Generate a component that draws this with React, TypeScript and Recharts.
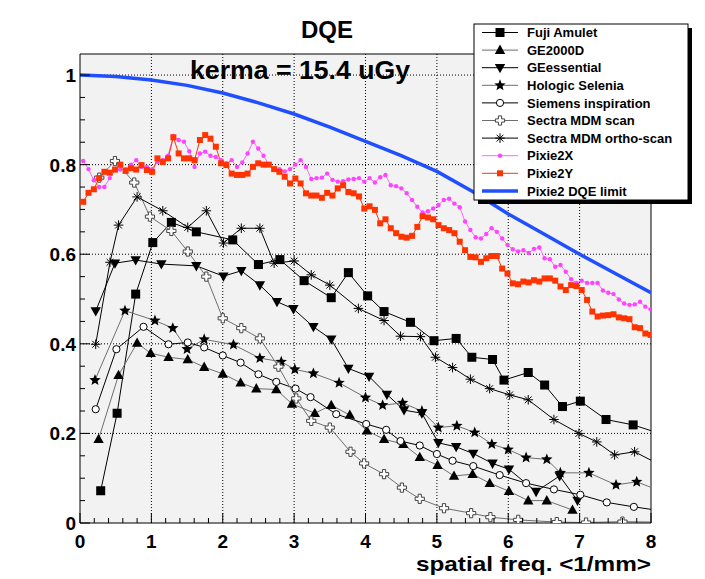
import { LineChart, Line, XAxis, YAxis, CartesianGrid, ReferenceLine } from 'recharts';

// Pixie2 measurements, sampled on a regular frequency grid (1/mm)
const pixieFreq = [
  0.045, 0.119, 0.194, 0.268, 0.342, 0.417, 0.491, 0.565, 0.639, 0.714, 0.788, 0.862, 0.937, 1.011, 1.085, 1.16, 1.234, 1.308,
  1.382, 1.457, 1.531, 1.605, 1.68, 1.754, 1.828, 1.903, 1.977, 2.051, 2.125, 2.2, 2.274, 2.348, 2.423, 2.497, 2.571, 2.646,
  2.72, 2.794, 2.868, 2.943, 3.017, 3.091, 3.166, 3.24, 3.314, 3.389, 3.463, 3.537, 3.611, 3.686, 3.76, 3.834, 3.909, 3.983,
  4.057, 4.132, 4.206, 4.28, 4.354, 4.429, 4.503, 4.577, 4.652, 4.726, 4.8, 4.875, 4.949, 5.023, 5.097, 5.172, 5.246, 5.32,
  5.395, 5.469, 5.543, 5.618, 5.692, 5.766, 5.84, 5.915, 5.989, 6.063, 6.138, 6.212, 6.286, 6.361, 6.435, 6.509, 6.583, 6.658,
  6.732, 6.806, 6.881, 6.955, 7.029, 7.104, 7.178, 7.252, 7.326, 7.401, 7.475, 7.549, 7.624, 7.698, 7.772, 7.847, 7.921, 7.995,
];
const pixie2X = [
  0.808, 0.79, 0.765, 0.75, 0.75, 0.77, 0.788, 0.789, 0.79, 0.8, 0.81, 0.795, 0.795, 0.79, 0.806, 0.81, 0.82, 0.864,
  0.855, 0.851, 0.83, 0.795, 0.825, 0.829, 0.82, 0.817, 0.81, 0.803, 0.81, 0.795, 0.805, 0.825, 0.851, 0.836, 0.82, 0.8,
  0.79, 0.79, 0.785, 0.79, 0.8, 0.81, 0.795, 0.768, 0.77, 0.771, 0.78, 0.766, 0.762, 0.763, 0.767, 0.768, 0.77, 0.762,
  0.77, 0.76, 0.772, 0.777, 0.754, 0.752, 0.747, 0.736, 0.721, 0.706, 0.693, 0.696, 0.702, 0.71, 0.721, 0.724, 0.713, 0.705,
  0.673, 0.654, 0.638, 0.635, 0.645, 0.658, 0.65, 0.635, 0.621, 0.611, 0.606, 0.609, 0.603, 0.612, 0.615, 0.591, 0.589, 0.572,
  0.576, 0.561, 0.544, 0.536, 0.541, 0.536, 0.536, 0.536, 0.519, 0.514, 0.511, 0.499, 0.49, 0.487, 0.488, 0.494, 0.483, 0.477,
];
const pixie2Y = [
  0.717, 0.737, 0.745, 0.77, 0.784, 0.782, 0.789, 0.8, 0.786, 0.792, 0.789, 0.799, 0.788, 0.784, 0.814, 0.806, 0.814, 0.861,
  0.825, 0.814, 0.814, 0.81, 0.855, 0.866, 0.858, 0.84, 0.803, 0.799, 0.78, 0.777, 0.777, 0.78, 0.795, 0.803, 0.8, 0.8,
  0.79, 0.784, 0.773, 0.758, 0.769, 0.758, 0.736, 0.731, 0.731, 0.726, 0.737, 0.731, 0.747, 0.754, 0.739, 0.736, 0.729, 0.702,
  0.707, 0.699, 0.669, 0.678, 0.658, 0.647, 0.639, 0.637, 0.641, 0.661, 0.685, 0.682, 0.678, 0.665, 0.658, 0.654, 0.647, 0.628,
  0.609, 0.594, 0.593, 0.583, 0.591, 0.596, 0.596, 0.568, 0.557, 0.535, 0.533, 0.539, 0.537, 0.542, 0.539, 0.546, 0.546, 0.541,
  0.528, 0.52, 0.531, 0.529, 0.52, 0.498, 0.472, 0.461, 0.463, 0.464, 0.466, 0.459, 0.457, 0.455, 0.437, 0.435, 0.423, 0.42,
];

const limitFreq = [0, 0.5, 1, 1.5, 2, 2.5, 3, 3.5, 4, 4.5, 5, 5.5, 6, 6.5, 7, 7.5, 8];
const limitDqe = [1.0, 0.997, 0.989, 0.977, 0.96, 0.938, 0.913, 0.884, 0.852, 0.82, 0.785, 0.74, 0.69, 0.645, 0.6, 0.557, 0.514];

const fujiFreq = [0.29, 0.52, 0.78, 1.02, 1.28, 1.63, 2.14, 2.5, 2.8, 3.14, 3.52, 3.76, 4.03, 4.26, 4.63, 4.96, 5.27, 5.49, 5.78, 5.94, 6.28, 6.51, 6.76, 7.01, 7.37, 7.75, 8.12];
const fujiDqe = [0.072, 0.245, 0.511, 0.626, 0.671, 0.65, 0.632, 0.577, 0.588, 0.541, 0.503, 0.559, 0.507, 0.472, 0.448, 0.407, 0.412, 0.37, 0.365, 0.319, 0.336, 0.308, 0.26, 0.272, 0.231, 0.219, 0.2];

const ge2000Freq = [0.26, 0.54, 0.8, 0.99, 1.24, 1.51, 1.74, 2.0, 2.25, 2.47, 2.75, 2.97, 3.29, 3.52, 3.78, 4.02, 4.26, 4.53, 4.76, 5.01, 5.24, 5.5, 5.74, 6.01, 6.28, 6.54, 6.9];
const ge2000Dqe = [0.187, 0.33, 0.402, 0.379, 0.37, 0.365, 0.348, 0.333, 0.313, 0.3, 0.298, 0.266, 0.245, 0.263, 0.241, 0.206, 0.187, 0.176, 0.147, 0.129, 0.105, 0.109, 0.089, 0.071, 0.05, 0.05, 0.029];

const geEssFreq = [0.22, 0.49, 0.78, 1.14, 1.63, 2.01, 2.26, 2.52, 2.76, 2.99, 3.27, 3.52, 3.76, 4.05, 4.3, 4.54, 4.79, 5.02, 5.27, 5.51, 5.78, 6.01, 6.39, 6.72, 6.97];
const geEssDqe = [0.473, 0.58, 0.587, 0.578, 0.574, 0.551, 0.563, 0.531, 0.494, 0.478, 0.438, 0.41, 0.345, 0.327, 0.287, 0.252, 0.245, 0.179, 0.17, 0.155, 0.133, 0.12, 0.07, 0.105, 0.05];

const hologicFreq = [0.21, 0.63, 1.05, 1.3, 1.5, 1.74, 2.15, 2.52, 2.82, 3.01, 3.27, 3.63, 4.0, 4.24, 4.52, 4.79, 5.02, 5.28, 5.53, 5.77, 6.0, 6.25, 6.54, 6.73, 7.13, 7.51, 7.8, 8.12];
const hologicDqe = [0.319, 0.474, 0.452, 0.435, 0.388, 0.41, 0.398, 0.368, 0.36, 0.343, 0.334, 0.313, 0.28, 0.263, 0.268, 0.25, 0.213, 0.217, 0.202, 0.176, 0.164, 0.146, 0.142, 0.112, 0.112, 0.085, 0.092, 0.072];

const siemensFreq = [0.22, 0.51, 0.89, 1.24, 1.51, 1.74, 2.0, 2.25, 2.5, 2.75, 3.02, 3.23, 3.59, 4.01, 4.29, 4.49, 4.76, 5.0, 5.22, 5.51, 5.88, 6.25, 6.64, 7.01, 7.38, 7.76, 8.15];
const siemensDqe = [0.254, 0.388, 0.438, 0.399, 0.403, 0.392, 0.374, 0.358, 0.332, 0.315, 0.3, 0.281, 0.243, 0.221, 0.208, 0.183, 0.173, 0.154, 0.139, 0.127, 0.107, 0.089, 0.075, 0.063, 0.046, 0.036, 0.027];

const sectraScanFreq = [0.27, 0.49, 0.76, 0.98, 1.28, 1.51, 1.77, 2.0, 2.26, 2.52, 2.78, 3.03, 3.24, 3.5, 3.79, 3.98, 4.26, 4.51, 4.76, 5.1, 5.48, 5.75, 6.14, 6.68, 7.09, 7.6, 8.1];
const sectraScanDqe = [0.771, 0.808, 0.76, 0.684, 0.652, 0.606, 0.55, 0.457, 0.435, 0.412, 0.349, 0.278, 0.228, 0.213, 0.159, 0.133, 0.109, 0.079, 0.054, 0.033, 0.022, 0.013, 0.007, 0.002, 0.001, 0.003, 0.002];

const sectraOrthoFreq = [0.22, 0.42, 0.54, 0.8, 1.16, 1.51, 1.77, 2.01, 2.26, 2.52, 2.72, 3.0, 3.24, 3.5, 3.9, 4.26, 4.49, 4.77, 4.98, 5.22, 5.47, 5.74, 6.02, 6.28, 6.64, 6.99, 7.24, 7.49, 7.77, 8.1];
const sectraOrthoDqe = [0.399, 0.582, 0.665, 0.728, 0.697, 0.66, 0.697, 0.625, 0.658, 0.658, 0.58, 0.585, 0.554, 0.531, 0.479, 0.452, 0.417, 0.416, 0.37, 0.347, 0.321, 0.3, 0.286, 0.275, 0.231, 0.2, 0.181, 0.152, 0.159, 0.132];

const xMajor = [0, 1, 2, 3, 4, 5, 6, 7, 8];
const yMajor = [0, 0.2, 0.4, 0.6, 0.8, 1];
const xMinor = Array.from({ length: 41 }, (_, i) => +(i * 0.2).toFixed(2));
const yMinor = Array.from({ length: 21 }, (_, i) => +(i * 0.05).toFixed(2));

const X_MAX = 8;
const Y_MAX = 1.047;

const FONT = '"Liberation Sans", Arial, Helvetica, sans-serif';
const GRAY = '#6e6e6e';

const zip = (xs: number[], ys: number[]) => xs.map((x, i) => ({ x, y: ys[i] }));

type MarkerKind = 'square' | 'triUp' | 'triDown' | 'star' | 'circle' | 'cross' | 'asterisk' | 'dot' | 'smallSquare' | 'none';

function Marker({ kind, cx, cy }: { kind: MarkerKind; cx: number; cy: number }) {
  switch (kind) {
    case 'square':
      return <rect x={cx - 4.5} y={cy - 4.5} width={9} height={9} fill="#000" />;
    case 'triUp':
      return <polygon points={`${cx},${cy - 5.5} ${cx + 5.2},${cy + 3.8} ${cx - 5.2},${cy + 3.8}`} fill="#000" />;
    case 'triDown':
      return <polygon points={`${cx},${cy + 5.5} ${cx + 5.2},${cy - 3.8} ${cx - 5.2},${cy - 3.8}`} fill="#000" />;
    case 'star': {
      const pts: string[] = [];
      for (let k = 0; k < 10; k++) {
        const r = k % 2 === 0 ? 6 : 2.6;
        const a = -Math.PI / 2 + (k * Math.PI) / 5;
        pts.push(`${cx + r * Math.cos(a)},${cy + r * Math.sin(a)}`);
      }
      return <polygon points={pts.join(' ')} fill="#000" />;
    }
    case 'circle':
      return <circle cx={cx} cy={cy} r={3.6} fill="#fff" stroke="#000" strokeWidth={1} />;
    case 'cross': {
      const a = 1.6;
      const b = 4.6;
      const p = [
        [-a, -b], [a, -b], [a, -a], [b, -a], [b, a], [a, a], [a, b], [-a, b], [-a, a], [-b, a], [-b, -a], [-a, -a],
      ]
        .map(([dx, dy]) => `${cx + dx},${cy + dy}`)
        .join(' ');
      return <polygon points={p} fill="#fff" stroke="#444" strokeWidth={1} />;
    }
    case 'asterisk': {
      const s = 4.8;
      const d = 3.4;
      return (
        <g stroke="#000" strokeWidth={1}>
          <line x1={cx - s} y1={cy} x2={cx + s} y2={cy} />
          <line x1={cx} y1={cy - s} x2={cx} y2={cy + s} />
          <line x1={cx - d} y1={cy - d} x2={cx + d} y2={cy + d} />
          <line x1={cx - d} y1={cy + d} x2={cx + d} y2={cy - d} />
        </g>
      );
    }
    case 'dot':
      return <circle cx={cx} cy={cy} r={2.2} fill="#ff44ff" />;
    case 'smallSquare':
      return <rect x={cx - 3} y={cy - 3} width={6} height={6} fill="#ff3300" />;
    default:
      return null;
  }
}

interface SeriesDef {
  name: string;
  freq: number[];
  dqe: number[];
  color: string;
  width: number;
  marker: MarkerKind;
}

const SERIES: SeriesDef[] = [
  { name: 'Fuji Amulet', freq: fujiFreq, dqe: fujiDqe, color: '#000', width: 1, marker: 'square' },
  { name: 'GE2000D', freq: ge2000Freq, dqe: ge2000Dqe, color: GRAY, width: 1, marker: 'triUp' },
  { name: 'GEessential', freq: geEssFreq, dqe: geEssDqe, color: '#000', width: 1, marker: 'triDown' },
  { name: 'Hologic Selenia', freq: hologicFreq, dqe: hologicDqe, color: GRAY, width: 1, marker: 'star' },
  { name: 'Siemens inspiration', freq: siemensFreq, dqe: siemensDqe, color: '#000', width: 1, marker: 'circle' },
  { name: 'Sectra MDM scan', freq: sectraScanFreq, dqe: sectraScanDqe, color: GRAY, width: 1, marker: 'cross' },
  { name: 'Sectra MDM ortho-scan', freq: sectraOrthoFreq, dqe: sectraOrthoDqe, color: '#000', width: 1, marker: 'asterisk' },
  { name: 'Pixie2X', freq: pixieFreq, dqe: pixie2X, color: '#ff66ff', width: 1, marker: 'dot' },
  { name: 'Pixie2Y', freq: pixieFreq, dqe: pixie2Y, color: '#ff3300', width: 1, marker: 'smallSquare' },
  { name: 'Pixie2 DQE limit', freq: limitFreq, dqe: limitDqe, color: '#1f4fff', width: 3.5, marker: 'none' },
];

const XTick = (props: any) => {
  const { x, y, payload } = props;
  const v = payload.value as number;
  const major = Math.abs(v - Math.round(v)) < 1e-6;
  return (
    <g>
      <line x1={x} x2={x} y1={y} y2={y - (major ? 10 : 5)} stroke="#000" strokeWidth={1} />
      {major && (
        <text x={x} y={y + 25} textAnchor="middle" fontFamily={FONT} fontWeight="bold" fontSize={19} fill="#000">
          {v}
        </text>
      )}
    </g>
  );
};

const YTick = (props: any) => {
  const { x, y, payload } = props;
  const v = payload.value as number;
  const major = Math.abs(v / 0.2 - Math.round(v / 0.2)) < 1e-6;
  return (
    <g>
      <line x1={x} x2={x + (major ? 10 : 5)} y1={y} y2={y} stroke="#000" strokeWidth={1} />
      {major && (
        <text x={x - 4} y={y + 7} textAnchor="end" fontFamily={FONT} fontWeight="bold" fontSize={19} fill="#000">
          {String(+v.toFixed(1))}
        </text>
      )}
    </g>
  );
};

// page is 705x579; body margin removed and re-applied as an 8px offset
const PAGE_W = 705;
const PAGE_H = 579;
const PAD = 8;
const W = 689;
const H = 563;
const M = { top: 46, right: 46, bottom: 0, left: 0 };
const Y_AXIS_W = 72;
const X_AXIS_H = 48;
const PLOT = { left: M.left + Y_AXIS_W, top: M.top, width: W - M.left - Y_AXIS_W - M.right, height: H - M.top - X_AXIS_H };

export default function App() {
  const gridX = () => xMajor.slice(1, -1).map((v) => PLOT.left + (v / X_MAX) * PLOT.width);
  const gridY = () => yMajor.slice(1).map((v) => PLOT.top + PLOT.height - (v / Y_MAX) * PLOT.height);
  return (
    <div style={{ position: 'relative', width: PAGE_W, height: PAGE_H, background: '#fff', overflow: 'hidden' }}>
      <style>{'html,body{margin:0;padding:0;background:#fff;}'}</style>
      <div style={{ position: 'absolute', left: PAD, top: PAD, width: W, height: H }}>
        <LineChart width={W} height={H} margin={M}>
          <CartesianGrid
            fill="#f2f2f2"
            stroke="#000"
            strokeDasharray="1 2"
            verticalCoordinatesGenerator={gridX}
            horizontalCoordinatesGenerator={gridY}
          />
          <XAxis
            type="number"
            dataKey="x"
            domain={[0, X_MAX]}
            ticks={xMinor}
            interval={0}
            allowDataOverflow
            height={X_AXIS_H}
            tickSize={0}
            tickMargin={0}
            tick={<XTick />}
            axisLine={{ stroke: '#000' }}
          />
          <YAxis
            type="number"
            dataKey="y"
            domain={[0, Y_MAX]}
            ticks={yMinor}
            interval={0}
            allowDataOverflow
            width={Y_AXIS_W}
            tickSize={0}
            tickMargin={0}
            tick={<YTick />}
            axisLine={{ stroke: '#000' }}
          />
          <ReferenceLine x={X_MAX} stroke="#000" />
          <ReferenceLine y={Y_MAX} stroke="#000" />
          {SERIES.map((s) => (
            <Line
              key={s.name}
              name={s.name}
              data={zip(s.freq, s.dqe)}
              dataKey="y"
              stroke={s.color}
              strokeWidth={s.width}
              isAnimationActive={false}
              activeDot={false}
              dot={
                s.marker === 'none'
                  ? false
                  : (p: any) => <Marker key={`${s.name}-${p.index}`} kind={s.marker} cx={p.cx} cy={p.cy} />
              }
            />
          ))}
        </LineChart>
      </div>
      <svg
        width={PAGE_W}
        height={PAGE_H}
        style={{ position: 'absolute', left: 0, top: 0, pointerEvents: 'none' }}
      >
        <g transform={`translate(${PAD},${PAD})`}>
          <text x={319} y={30} textAnchor="middle" fontFamily={FONT} fontWeight="bold" fontSize={24}>
            DQE
          </text>
          <text
            x={182}
            y={71}
            textLength={220}
            lengthAdjust="spacingAndGlyphs"
            fontFamily={FONT}
            fontWeight="bold"
            fontSize={26}
          >
            kerma = 15.4 uGy
          </text>
          <text
            x={408}
            y={563}
            textLength={235}
            lengthAdjust="spacingAndGlyphs"
            fontFamily={FONT}
            fontWeight="bold"
            fontSize={21}
          >
            spatial freq. &lt;1/mm&gt;
          </text>
          <rect x={470} y={20} width={214} height={176} fill="#000" />
          <rect x={466} y={16} width={214} height={176} fill="#fff" stroke="#000" strokeWidth={1} />
          {SERIES.map((s, i) => {
            const cy = 24.5 + i * 17.6;
            return (
              <g key={s.name}>
                <line x1={474} x2={510} y1={cy} y2={cy} stroke={s.color} strokeWidth={s.width} />
                <Marker kind={s.marker} cx={492} cy={cy} />
                <text x={519} y={cy + 4.6} fontFamily={FONT} fontWeight="bold" fontSize={13} fill="#000">
                  {s.name}
                </text>
              </g>
            );
          })}
        </g>
      </svg>
    </div>
  );
}
